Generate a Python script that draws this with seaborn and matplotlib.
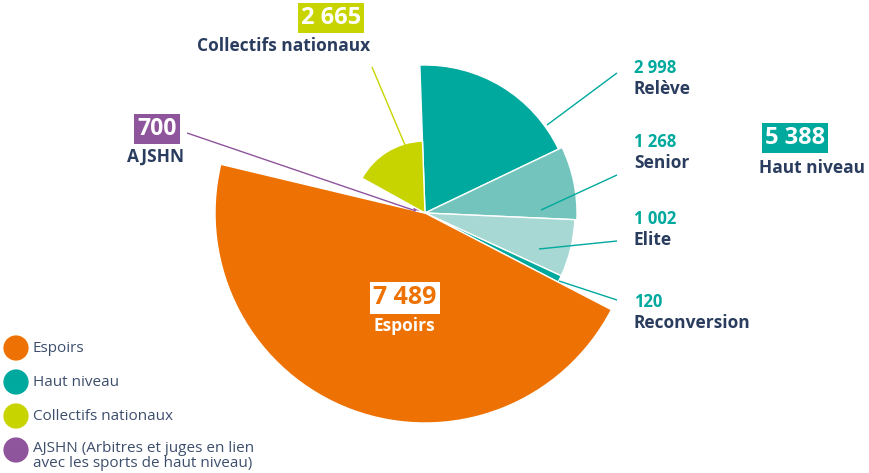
import numpy as np
import matplotlib
matplotlib.use("Agg")
import matplotlib.pyplot as plt
from matplotlib.patches import Wedge
import seaborn as sns

# Data
segments = ["Relève", "Senior", "Elite", "Reconversion", "Espoirs", "AJSHN", "Collectifs nationaux"]
values = [2998, 1268, 1002, 120, 7489, 700, 2665]
groups = ["Espoirs", "Haut niveau", "Collectifs nationaux", "AJSHN"]
group_totals = [7489, 5388, 2665, 700]
legend_labels = ["Espoirs", "Haut niveau", "Collectifs nationaux",
                 "AJSHN (Arbitres et juges en lien\navec les sports de haut niveau)"]

# Styling
seg_colors = ["#00A99D", "#72C4BC", "#A7D8D3", "#00A99D", "#EE7203", "#8E559C", "#C8D400"]
seg_radius = [148, 152, 150, 150, 210, 13, 72]
group_colors = ["#EE7203", "#00A99D", "#C8D400", "#8E559C"]
NAVY = "#2B3D5E"
TEAL = "#00A99D"

sns.set_theme(style="white")
plt.rcParams["font.family"] = ["Open Sans", "DejaVu Sans"]

fig = plt.figure(figsize=(8.7, 4.73), dpi=100)
ax = fig.add_axes([0, 0, 1, 1])
ax.set_xlim(0, 870)
ax.set_ylim(473, 0)
ax.set_aspect("equal")
ax.axis("off")

cx, cy = 425, 213
total = sum(values)
start = 92.0
# wedges run clockwise from the top; the y axis is inverted, so negate angles
angle = start
for name, v, col, r in zip(segments, values, seg_colors, seg_radius):
    sweep = v / total * 360.0
    a1, a2 = angle - sweep, angle
    ax.add_patch(Wedge((cx, cy), r, -a2, -a1, facecolor=col, edgecolor="white", linewidth=1.0))
    angle = a1

def fmt(v):
    return f"{v:,}".replace(",", " ")

def leader(x0, y0, x1, y1, color):
    ax.plot([x0, x1], [y0, y1], color=color, lw=1.0, solid_capstyle="butt")

def boxed(x, y, s, fg, bg, size):
    ax.text(x, y, s, color=fg, fontsize=size, fontweight="bold", ha="center", va="center",
            bbox=dict(boxstyle="square,pad=0.14", facecolor=bg, edgecolor="none"))

LBL = 12.5
# Haut niveau sub-labels
sub = [("Relève", 2998, 68, (617, 73), (547, 125)),
       ("Senior", 1268, 142, (617, 175), (541, 210)),
       ("Elite", 1002, 219, (617, 241), (539, 249)),
       ("Reconversion", 120, 302, (617, 300), (559, 281))]
for name, v, ty, p0, p1 in sub:
    leader(p0[0], p0[1], p1[0], p1[1], TEAL)
    ax.text(634, ty, fmt(v), color=TEAL, fontsize=12, fontweight="bold", va="center", ha="left")
    ax.text(634, ty + 21, name, color=NAVY, fontsize=LBL, fontweight="bold", va="center", ha="left")

# Haut niveau total
boxed(795, 138, fmt(group_totals[1]), "white", TEAL, 17)
ax.text(759, 168, "Haut niveau", color=NAVY, fontsize=LBL, fontweight="bold", va="center", ha="left")

# Collectifs nationaux
leader(372, 67, 405, 145, "#C8D400")
boxed(331, 18, fmt(values[6]), "white", "#C8D400", 17)
ax.text(284, 46, "Collectifs nationaux", color=NAVY, fontsize=LBL, fontweight="bold",
        ha="center", va="center")

# AJSHN
leader(187, 133, 416, 211, "#8E559C")
boxed(157, 129, fmt(values[5]), "white", "#8E559C", 16.5)
ax.text(156, 157, "AJSHN", color=NAVY, fontsize=LBL, fontweight="bold", ha="center", va="center")

# Espoirs
boxed(405, 298, fmt(values[4]), "#EE7203", "white", 18)
ax.text(404, 326, "Espoirs", color="white", fontsize=LBL, fontweight="bold", ha="center", va="center")

# Legend
leg_y = [348, 382, 416, 450]
sns.scatterplot(x=[16] * 4, y=leg_y, hue=groups, palette=group_colors, s=330,
                edgecolor="none", legend=False, ax=ax, zorder=5)
for label, y in zip(legend_labels, leg_y):
    if "\n" in label:
        ax.text(33, y + 6, label, color="#3D4E6C", fontsize=11, va="center", ha="left",
                linespacing=0.92)
    else:
        ax.text(33, y, label, color="#3D4E6C", fontsize=11, va="center", ha="left")

ax.set_xlim(0, 870)
ax.set_ylim(473, 0)
fig.savefig("out.png", dpi=100)
